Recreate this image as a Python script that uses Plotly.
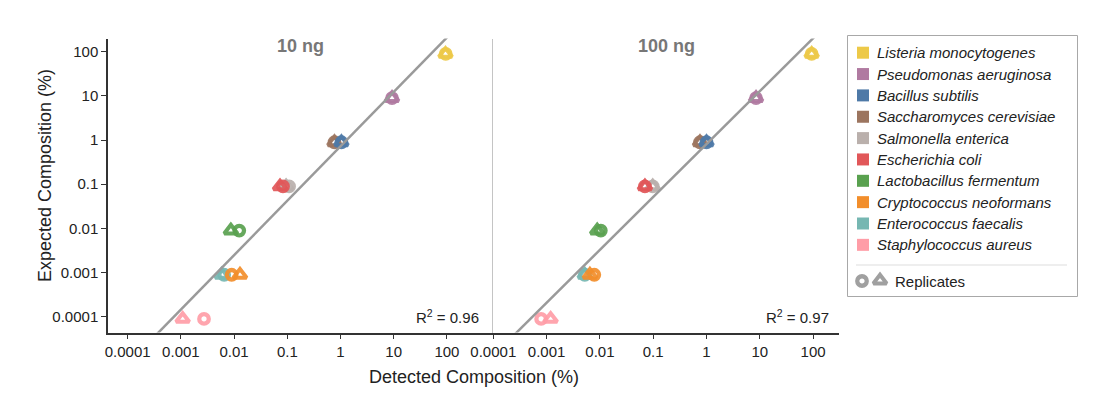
import numpy as np
import plotly.graph_objects as go

W, H = 1099, 398

# ---------------- data ----------------
species = ["Listeria monocytogenes", "Pseudomonas aeruginosa", "Bacillus subtilis",
           "Saccharomyces cerevisiae", "Salmonella enterica", "Escherichia coli",
           "Lactobacillus fermentum", "Cryptococcus neoformans", "Enterococcus faecalis",
           "Staphylococcus aureus"]
colors = ["#edc948", "#b07aa1", "#4e79a7", "#9c755f", "#bab0ac", "#e15759",
          "#59a14f", "#f28e2b", "#76b7b2", "#ff9da7"]
expected = [89.1, 8.9, 0.89, 0.89, 0.089, 0.089, 0.0089, 0.00089, 0.00089, 0.000089]

det_10ng_rep1 = [95, 9.3, 1.04, 0.77, 0.108, 0.083, 0.0125, 0.0090, 0.0065, 0.00272]
det_10ng_rep2 = [94, 9.3, 1.04, 0.77, 0.095, 0.073, 0.0087, 0.0129, 0.00585, 0.00108]
det_100ng_rep1 = [94, 8.5, 1.0, 0.755, 0.098, 0.070, 0.0104, 0.00785, 0.0052, 0.00079]
det_100ng_rep2 = [94, 8.5, 1.0, 0.755, 0.098, 0.070, 0.0089, 0.0065, 0.0052, 0.00119]

panel_titles = ["10 ng", "100 ng"]
r2_labels = ["0.96", "0.97"]
tick_vals = [0.0001, 0.001, 0.01, 0.1, 1, 10, 100]
tick_text = ["0.0001", "0.001", "0.01", "0.1", "1", "10", "100"]

# ---------------- helpers ----------------
FONT = "Liberation Sans, Arial, Helvetica, sans-serif"
def fx(px):
    return px / W
def fy(py):
    return 1 - py / H

x_left_px, x_mid_px, x_right_px = 108, 493.3, 839
y_top_px, y_bot_px = 38.5, 332.5
x_ranges = [[-4.37, 2.872], [-4.0, 2.486]]
y_range = [-4.358, 2.299]

CIRC = dict(size=9.5, width=4.3)
TRI = dict(size=11.5, width=4.0)

# drawing order (reverse alphabetical, as layered in the original)
draw_order = sorted(range(len(species)), key=lambda k: species[k], reverse=True)

fig = go.Figure()

panels = [(det_10ng_rep1, det_10ng_rep2), (det_100ng_rep1, det_100ng_rep2)]
for p, (rep1, rep2) in enumerate(panels):
    xa = "x" if p == 0 else "x2"
    ya = "y" if p == 0 else "y2"
    for i in draw_order:
        sp = species[i]
        fig.add_trace(go.Scatter(
            x=[rep1[i]], y=[expected[i]],
            mode="markers", xaxis=xa, yaxis=ya, showlegend=False, name=sp,
            marker=dict(symbol="circle-open", size=CIRC["size"], color=colors[i],
                        line=dict(width=CIRC["width"], color=colors[i]), opacity=0.92),
        ))
        fig.add_trace(go.Scatter(
            x=[rep2[i]], y=[expected[i]],
            mode="markers", xaxis=xa, yaxis=ya, showlegend=False, name=sp,
            marker=dict(symbol="triangle-up-open", size=TRI["size"], color=colors[i],
                        line=dict(width=TRI["width"], color=colors[i]), opacity=0.92),
        ))
    # regression line in log-log space
    lx = np.log10(np.concatenate([rep1, rep2]))
    ly = np.log10(np.concatenate([expected, expected]))
    slope, intercept = np.polyfit(lx, ly, 1)
    xs = np.array([x_ranges[p][0] - 1, x_ranges[p][1] + 1])
    fig.add_trace(go.Scatter(
        x=10 ** xs, y=10 ** (slope * xs + intercept), mode="lines",
        xaxis=xa, yaxis=ya, showlegend=False, hoverinfo="skip",
        line=dict(color="#9a9a9a", width=2.5),
    ))

# ---------------- legend drawn on a pixel overlay axis ----------------
leg_y0, leg_dy = 52.7, 21.35
leg_y = [leg_y0 + k * leg_dy for k in range(len(species))]
fig.add_trace(go.Scatter(
    x=[863] * len(species), y=leg_y, mode="markers", xaxis="x3", yaxis="y3",
    showlegend=False, hoverinfo="skip",
    marker=dict(symbol="square", size=12, color=colors),
))
rep_y = 281
fig.add_trace(go.Scatter(
    x=[862], y=[rep_y], mode="markers", xaxis="x3", yaxis="y3",
    showlegend=False, hoverinfo="skip",
    marker=dict(symbol="circle-open", size=CIRC["size"], color="#a0a0a0",
                line=dict(width=CIRC["width"], color="#a0a0a0")),
))
fig.add_trace(go.Scatter(
    x=[880], y=[rep_y - 0.5], mode="markers", xaxis="x3", yaxis="y3",
    showlegend=False, hoverinfo="skip",
    marker=dict(symbol="triangle-up-open", size=TRI["size"], color="#a0a0a0",
                line=dict(width=TRI["width"], color="#a0a0a0")),
))

shapes = [
    dict(type="rect", xref="x3", yref="y3", x0=847.5, x1=1077.5, y0=35.5, y1=296.5,
         line=dict(color="#a8a8a8", width=1), fillcolor="rgba(0,0,0,0)", layer="below"),
    dict(type="line", xref="x3", yref="y3", x0=856, x1=1067, y0=265, y1=265,
         line=dict(color="#dddddd", width=1)),
]

annotations = []
for k, sp in enumerate(species):
    annotations.append(dict(xref="x3", yref="y3", x=875, y=leg_y[k], text="<i>%s</i>" % sp,
                            showarrow=False, xanchor="left", yanchor="middle",
                            font=dict(family=FONT, size=15, color="#222")))
annotations.append(dict(xref="x3", yref="y3", x=893, y=rep_y, text="Replicates",
                        showarrow=False, xanchor="left", yanchor="middle",
                        font=dict(family=FONT, size=15, color="#222")))

# panel titles and R2 labels
centers = [(x_left_px + x_mid_px) / 2, (x_mid_px + x_right_px) / 2]
r2_right = [481, 831]
for p in range(2):
    annotations.append(dict(xref="paper", yref="paper", x=fx(centers[p]), y=fy(46),
                            text="<b>%s</b>" % panel_titles[p], showarrow=False,
                            xanchor="center", yanchor="middle",
                            font=dict(family=FONT, size=18, color="#777777")))
    annotations.append(dict(xref="paper", yref="paper", x=fx(r2_right[p]), y=fy(316),
                            text="R<sup>2</sup> = %s" % r2_labels[p], showarrow=False,
                            xanchor="right", yanchor="middle",
                            font=dict(family=FONT, size=15, color="#222")))

# axis titles
annotations.append(dict(xref="paper", yref="paper", x=fx(45), y=fy(176),
                        text="Expected Composition (%)", textangle=-90, showarrow=False,
                        xanchor="center", yanchor="middle",
                        font=dict(family=FONT, size=18, color="#222")))
annotations.append(dict(xref="paper", yref="paper", x=fx(473.5), y=fy(377),
                        text="Detected Composition (%)", showarrow=False,
                        xanchor="center", yanchor="middle",
                        font=dict(family=FONT, size=18, color="#222")))

xcommon = dict(type="log", showgrid=False, zeroline=False, showline=True, automargin=False,
               linecolor="#333333", linewidth=1.5, ticks="outside", ticklen=5,
               tickwidth=1.2, tickcolor="#333333", tickvals=tick_vals, ticktext=tick_text,
               tickfont=dict(family=FONT, size=15, color="#222"))

fig.update_layout(
    template="none",
    width=W, height=H,
    margin=dict(l=0, r=0, t=0, b=0, pad=0, autoexpand=False),
    paper_bgcolor="white", plot_bgcolor="rgba(0,0,0,0)",
    showlegend=False,
    hovermode=False,
    xaxis=dict(domain=[fx(x_left_px), fx(x_mid_px)], range=x_ranges[0], anchor="y", **xcommon),
    xaxis2=dict(domain=[fx(x_mid_px), fx(x_right_px)], range=x_ranges[1], anchor="y2", **xcommon),
    yaxis=dict(type="log", domain=[fy(y_bot_px), fy(y_top_px)], range=y_range, anchor="x",
               automargin=False,
               showgrid=False, zeroline=False, showline=True, linecolor="#333333",
               linewidth=1.5, ticks="outside", ticklen=5, tickwidth=1.2, tickcolor="#333333",
               tickvals=tick_vals, ticktext=tick_text,
               tickfont=dict(family=FONT, size=15, color="#222")),
    yaxis2=dict(type="log", domain=[fy(y_bot_px), fy(y_top_px)], range=y_range, anchor="x2",
                automargin=False,
                showgrid=False, zeroline=False, showline=True, linecolor="#c4c4c4",
                linewidth=1, ticks="", showticklabels=False),
    xaxis3=dict(domain=[0, 1], range=[0, W], anchor="y3", visible=False, fixedrange=True,
                automargin=False),
    yaxis3=dict(domain=[0, 1], range=[H, 0], anchor="x3", visible=False, fixedrange=True,
                automargin=False),
    shapes=shapes,
    annotations=annotations,
)

fig.write_html("out.html", config={"displayModeBar": False},
               post_script="document.body.style.margin='0px';document.body.style.overflow='hidden';")
